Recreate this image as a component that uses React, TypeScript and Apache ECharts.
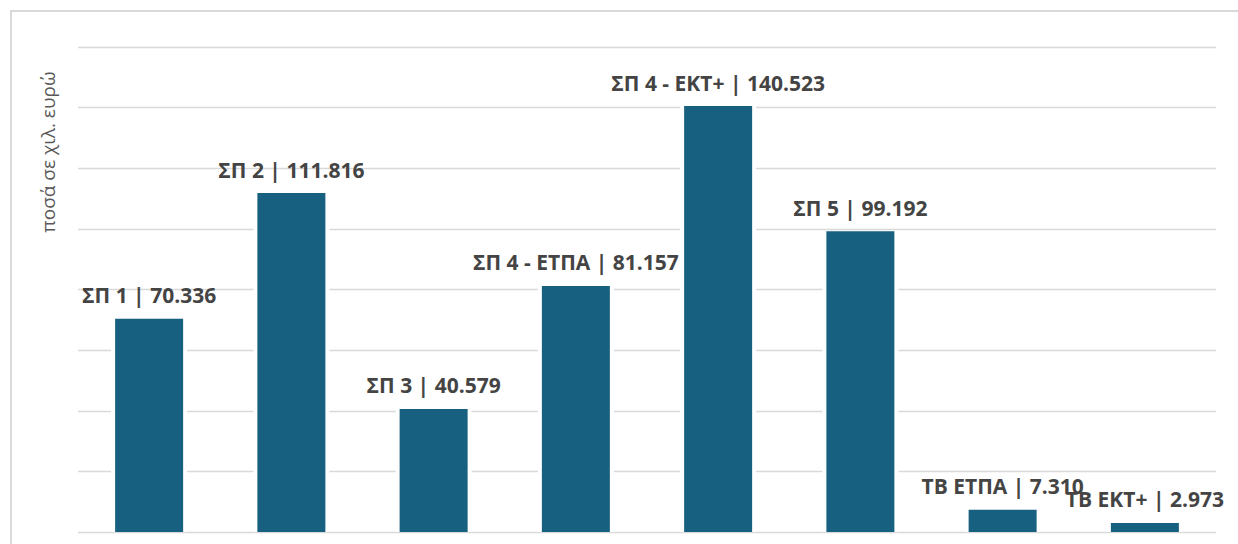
import React, { useEffect, useRef } from "react";
import * as echarts from "echarts";

const categories = ["ΣΠ 1", "ΣΠ 2", "ΣΠ 3", "ΣΠ 4 - ΕΤΠΑ", "ΣΠ 4 - ΕΚΤ+", "ΣΠ 5", "ΤΒ ΕΤΠΑ", "ΤΒ ΕΚΤ+"];
const values = [70.336, 111.816, 40.579, 81.157, 140.523, 99.192, 7.31, 2.973];
const axisTitle = "ποσά σε χιλ. ευρώ";

export default function App() {
  const ref = useRef<HTMLDivElement>(null);
  useEffect(() => {
    if (!ref.current) return;
    const chart = echarts.init(ref.current, null, { renderer: "svg" });
    const hiddenCat = {
      type: "category",
      data: categories,
      axisLine: { show: false },
      axisTick: { show: false },
      axisLabel: { show: false },
    };
    chart.setOption({
      animation: false,
      backgroundColor: "#ffffff",
      grid: { left: 78, right: 22, top: 47, bottom: 12, containLabel: false },
      xAxis: [hiddenCat, { ...hiddenCat, show: false }],
      yAxis: {
        type: "value",
        min: 0,
        max: 160,
        interval: 20,
        axisLine: { show: false },
        axisTick: { show: false },
        axisLabel: { show: false },
        splitLine: { lineStyle: { color: "#d9d9d9", width: 1.3 } },
      },
      graphic: [
        {
          type: "rect",
          shape: { x: 11, y: 11, width: 1250, height: 600 },
          style: { fill: "none", stroke: "#d9d9d9", lineWidth: 2 },
          silent: true,
        },
        {
          type: "text",
          x: 48,
          y: 152,
          rotation: Math.PI / 2,
          style: {
            text: axisTitle,
            fill: "#595959",
            font: "19px 'Open Sans', sans-serif",
            align: "center",
            verticalAlign: "middle",
          },
        },
      ],
      series: [
        {
          type: "bar",
          xAxisIndex: 1,
          data: values,
          barWidth: 76,
          silent: true,
          itemStyle: { color: "#ffffff" },
          label: { show: false },
        },
        {
          type: "bar",
          xAxisIndex: 0,
          data: values,
          barWidth: 68,
          itemStyle: { color: "#17607F" },
          label: {
            show: true,
            position: "top",
            distance: 13,
            color: "#444444",
            fontFamily: "'Open Sans', sans-serif",
            fontWeight: "bold",
            fontSize: 21,
            formatter: (p: any) => `${p.name} | ${Number(p.value).toFixed(3)}`,
          },
        },
      ],
    });
    return () => chart.dispose();
  }, []);
  return (
    <div
      ref={ref}
      style={{ position: "fixed", left: 0, top: 0, width: 1238, height: 544 }}
    />
  );
}
